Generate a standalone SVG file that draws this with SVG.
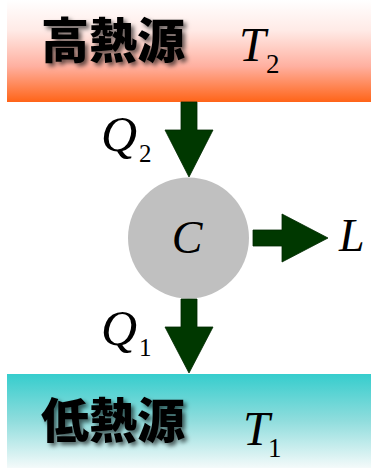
<svg xmlns="http://www.w3.org/2000/svg" width="371" height="468" viewBox="0 0 371 468">
<style>
.cjk{font-family:"Noto Sans CJK JP","Noto Sans CJK TC",sans-serif;font-weight:900;font-size:48px;fill:#000;filter:url(#sh)}
.m{font-family:"Liberation Serif",serif;font-style:italic;fill:#000}
.s{font-family:"Liberation Serif",serif;fill:#000}
.arr{fill:#003800;stroke:#002a00;stroke-width:0.8}
</style>
<defs>
<linearGradient id="hotg" x1="0" y1="0" x2="0" y2="1">
<stop offset="0" stop-color="#ffffff"/>
<stop offset="0.3" stop-color="#ffeae6"/>
<stop offset="0.65" stop-color="#ffb0a0"/>
<stop offset="1" stop-color="#ff6418"/>
</linearGradient>
<linearGradient id="coldg" x1="0" y1="0" x2="0" y2="1">
<stop offset="0" stop-color="#36cdcd"/>
<stop offset="0.5" stop-color="#90dddd"/>
<stop offset="1" stop-color="#f4fafa"/>
</linearGradient>
<filter id="sh" x="-10%" y="-20%" width="130%" height="150%">
<feDropShadow dx="3" dy="3" stdDeviation="2" flood-color="#000" flood-opacity="0.6"/>
</filter>
</defs>
<g id="hot">
<rect x="7" y="0" width="364" height="102" fill="url(#hotg)"/>
<text class="cjk" x="41" y="58">高熱源</text>
<text class="m" x="239" y="61" font-size="48">T</text>
<text class="s" x="266" y="73" font-size="27">2</text>
</g>
<g id="cold">
<rect x="7" y="374" width="364" height="94" fill="url(#coldg)"/>
<text class="cjk" x="41" y="438">低熱源</text>
<text class="m" x="243" y="445" font-size="48">T</text>
<text class="s" x="268" y="457" font-size="27">1</text>
</g>
<g id="engine">
<circle cx="188.5" cy="238" r="60.5" fill="#c0c0c0"/>
<text class="m" x="187" y="253" font-size="46" text-anchor="middle">C</text>
</g>
<g id="connectors">
<polygon class="arr" points="181,102 197,102 197,130 213,130 189,177 165,130 181,130"/>
<polygon class="arr" points="181,299 197,299 197,327 213,327 189,373 165,327 181,327"/>
<polygon class="arr" points="253,230 282,230 282,214 328,238 282,262 282,246 253,246"/>
</g>
<g id="labels">
<text class="m" x="101" y="151" font-size="50">Q</text>
<text class="s" x="139" y="162" font-size="25">2</text>
<text class="m" x="101" y="345" font-size="50">Q</text>
<text class="s" x="139" y="356" font-size="25">1</text>
<text class="m" x="339" y="251" font-size="46">L</text>
</g>
</svg>
